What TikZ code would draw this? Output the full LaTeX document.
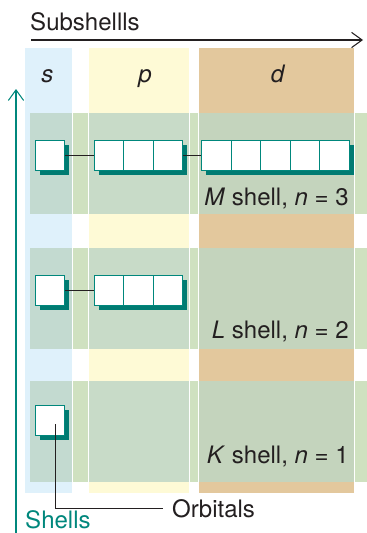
\documentclass[tikz,border=0pt]{standalone}
\usepackage{fontspec}
\setmainfont{TeX Gyre Heros}
\usetikzlibrary{arrows.meta,positioning,shadows}

\definecolor{inkc}{HTML}{231F20}
\definecolor{tealc}{HTML}{00877C}
\definecolor{shadowc}{HTML}{007B72}
\definecolor{scol}{HTML}{DFF1FB}
\definecolor{pcol}{HTML}{FEFAD6}
\definecolor{dcol}{HTML}{E3C89D}
\definecolor{bandc}{HTML}{CFE1C0}
\definecolor{bands}{HTML}{C3DAD0}
\definecolor{bandp}{HTML}{C8DBC8}
\definecolor{bandd}{HTML}{C4D4BD}

\begin{document}
\begin{tikzpicture}[x=0.03cm, y=-0.03cm,
    every node/.style={font=\fontsize{20.5}{24}\selectfont, text=inkc},
    txt/.style={inner sep=0pt},
    orb/.style={draw=tealc, fill=white, line width=0.8pt, minimum size=0.885cm, inner sep=0pt,
      drop shadow={shadow xshift=0.135cm, shadow yshift=-0.135cm, fill=shadowc, opacity=1}},
    link/.style={draw=inkc, line width=0.7pt},
    axis/.style={line width=0.9pt, -{Straight Barb[length=9pt,width=13pt]}}]
    \useasboundingbox (0,0) rectangle (367,533);

    % Subshell columns
    \fill[scol] (25,48) rectangle (71.7,493);
    \fill[pcol] (89,48) rectangle (189,493);
    \fill[dcol] (199,48) rectangle (353.7,493);
    \node[txt, anchor=base] (shead) at (47.5,82) {\textit{s}};
    \node[txt, anchor=base] (phead) at (145,82) {\textit{p}};
    \node[txt, anchor=base] (dhead) at (278,82) {\textit{d}};

    % Shell bands
    \foreach \t in {113,248,381} {
      \fill[bandc] (30,\t) rectangle (367,\t+101);
      \fill[bands] (30,\t) rectangle (71.7,\t+101);
      \fill[bandp] (89,\t) rectangle (189,\t+101);
      \fill[bandd] (199,\t) rectangle (353.7,\t+101);
      \foreach \xs in {72,88.4,189.6,198.4,354.2}
        \draw[white, line width=0.5pt] (\xs,\t) -- (\xs,\t+101);
    }

    % M shell
    \node[orb] (ms) at (50,155.3) {};
    \foreach \i in {1,2,3} \node[orb] (mp\i) at ({79.25+29.5*\i},155.3) {};
    \foreach \i in {1,...,5} \node[orb] (md\i) at ({187.3+29.4*\i},155.3) {};
    \draw[link] (ms) -- (mp1);
    \draw[link] (mp3) -- (md1);
    \node[txt, anchor=base east] (mlabel) at (349,205) {\textit{M} shell, \textit{n} = 3};

    % L shell
    \node[orb] (ls) at (50,290.3) {};
    \foreach \i in {1,2,3} \node[orb] (lp\i) at ({79.25+29.5*\i},290.3) {};
    \draw[link] (ls) -- (lp1);
    \node[txt, anchor=base east] (llabel) at (349,338) {\textit{L} shell, \textit{n} = 2};

    % K shell
    \node[orb] (ks) at (50,420.3) {};
    \node[txt, anchor=base east] (klabel) at (349,463) {\textit{K} shell, \textit{n} = 1};

    % Orbitals pointer
    \node[txt, anchor=base west] (orblabel) at (172,517) {Orbitals};
    \coordinate (kpin) at (55,424);
    \draw[link] (kpin) |- ([xshift=-0.27cm]orblabel.west);

    % Axes
    \node[txt, anchor=base west] (subtitle) at (30,30) {Subshellls};
    \coordinate (subleft) at (31,40);
    \coordinate (subright) at (363,40);
    \draw[axis, inkc] (subleft) -- (subright);
    \node[txt, anchor=base west, text=tealc] (shelltitle) at (25,528) {Shells};
    \coordinate (shellbot) at (16,533);
    \coordinate (shelltop) at (16,89);
    \draw[axis, tealc] (shellbot) -- (shelltop);
\end{tikzpicture}
\end{document}
